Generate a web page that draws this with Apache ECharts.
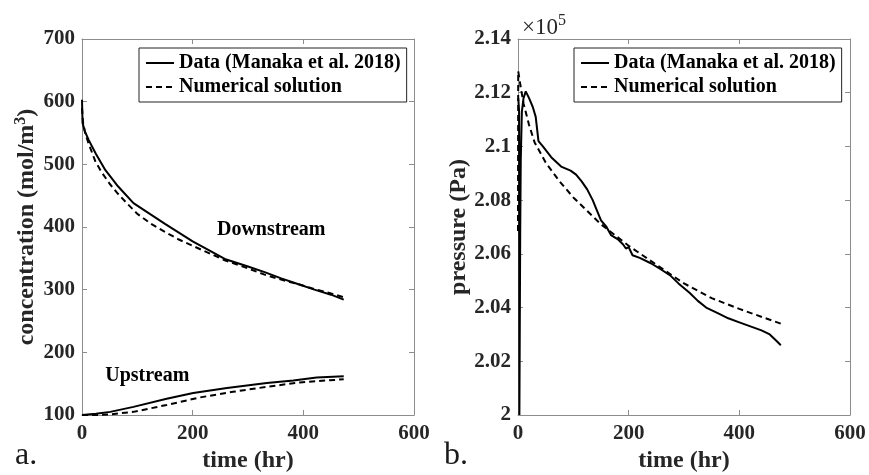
<!DOCTYPE html>
<html>
<head>
<meta charset="utf-8">
<script src="https://cdn.jsdelivr.net/npm/echarts@6/dist/echarts.min.js"></script>
<style>
    html, body {margin: 0; padding: 0; background: #fff;}
    #chart {width: 869px; height: 475px;}
</style>
</head>
<body>
<div id="chart"></div>
<script>
    // [time (hr), concentration (mol/m3)]
    const downstreamData = [[0, 603], [1, 566], [5, 553], [12, 539], [25, 517], [42, 491], [65, 465], [93, 438],
        [150, 405], [200, 377], [258, 349], [300, 337], [330, 328], [360, 318], [390, 309], [420, 300], [450, 292], [473, 284]];
    const downstreamModel = [[0, 590], [2, 566], [6, 549], [12, 533], [24, 505], [35, 488], [50, 469], [65, 453],
        [80, 439], [100, 421], [125, 405], [150, 392], [175, 380], [200, 370], [258, 347], [300, 334], [330, 324],
        [360, 316], [390, 309], [420, 301], [450, 294], [473, 288]];
    const upstreamData = [[0, 100], [25, 102], [51, 105], [93, 113], [153, 126], [201, 135], [262, 143], [334, 151],
        [382, 155], [424, 160], [473, 162]];
    const upstreamModel = [[0, 100], [25, 100], [51, 101], [93, 105], [153, 116], [213, 128], [273, 137], [334, 145],
        [394, 152], [473, 157]];
    // [time (hr), pressure (Pa)]
    const pressureData = [[0.5, 211800], [2, 211300], [2.5, 200000], [3.5, 200000], [4, 206800], [5, 209500], [7, 211300],
        [10, 211800], [14, 212050], [20, 211800], [27, 211450], [32, 211100], [37, 210200], [45, 210000], [60, 209600],
        [78, 209250], [95, 209100], [105, 208950], [115, 208700], [125, 208400], [135, 208000], [142, 207650],
        [150, 207250], [160, 207000], [168, 206700], [180, 206550], [190, 206350], [195, 206200], [200, 206250],
        [207, 205950], [220, 205850], [240, 205650], [260, 205400], [275, 205200], [290, 204900], [310, 204550],
        [325, 204250], [340, 204000], [360, 203800], [380, 203600], [400, 203450], [420, 203300], [440, 203150],
        [455, 203000], [465, 202800], [475, 202600]];
    const pressureModel = [[0, 206850], [0.4, 212800], [5, 212200], [10, 211600], [20, 210800], [30, 210150],
        [50, 209400], [75, 208700], [100, 208100], [125, 207600], [150, 207100], [175, 206700], [200, 206300],
        [250, 205600], [300, 204900], [350, 204350], [400, 203950], [475, 203400]];
    const legendNames = ['Data (Manaka et al. 2018)', 'Numerical solution'];

    const serif = 'Liberation Serif';
    const textColor = '#262626';
    const boxColor = '#8c8c8c';

    const chart = echarts.init(document.getElementById('chart'));

    function xAx(grid, pos) {
        const main = pos === 'bottom';
        return {
            gridIndex: grid, type: 'value', position: pos, min: 0, max: 600, interval: 200,
            name: main ? 'time (hr)' : '', nameLocation: 'middle', nameGap: 34,
            nameTextStyle: {fontFamily: serif, fontWeight: 'bold', fontSize: 24, color: textColor},
            axisLine: {show: true, onZero: false, lineStyle: {color: boxColor, width: 1}},
            axisTick: {show: true, inside: true, length: 5, lineStyle: {color: boxColor}},
            axisLabel: {show: main, margin: 8, fontFamily: serif, fontWeight: 'bold', fontSize: 21, color: textColor},
            splitLine: {show: false}
        };
    }
    function yAx(grid, pos, min, max, step, name, fmt, gap) {
        const main = pos === 'left';
        return {
            gridIndex: grid, type: 'value', position: pos, min: min, max: max, interval: step,
            name: main ? name : '', nameLocation: 'middle', nameGap: gap,
            nameTextStyle: {fontFamily: serif, fontWeight: 'bold', fontSize: 24, color: textColor,
                rich: {sup: {fontFamily: serif, fontWeight: 'bold', fontSize: 16, color: textColor, padding: [0, 0, 12, 0]}}},
            axisLine: {show: true, onZero: false, lineStyle: {color: boxColor, width: 1}},
            axisTick: {show: true, inside: true, length: 5, lineStyle: {color: boxColor}},
            axisLabel: {show: main, margin: 7, fontFamily: serif, fontWeight: 'bold', fontSize: 21, color: textColor, formatter: fmt},
            splitLine: {show: false}
        };
    }
    function line(name, data, xi, yi, dashed, mark) {
        const s = {
            name: name, type: 'line', data: data, xAxisIndex: xi, yAxisIndex: yi,
            symbol: 'none', animation: false, silent: true,
            itemStyle: {color: '#000'},
            lineStyle: {color: '#000', width: 2, type: dashed ? [6, 4] : 'solid'}
        };
        if (mark) {
            s.markPoint = {
                symbol: 'circle', symbolSize: 0, silent: true,
                label: {show: true, position: 'inside', formatter: '{b}', fontFamily: serif, fontWeight: 'bold', fontSize: 20, color: '#000'},
                data: [{name: mark.text, coord: mark.at}]
            };
        }
        return s;
    }
    function legend(left) {
        return {
            data: legendNames, orient: 'vertical', left: left, top: 48,
            padding: [5, 6, 5, 6], itemGap: 4, itemWidth: 28, itemHeight: 14,
            borderColor: '#222', borderWidth: 1, backgroundColor: '#fff',
            selectedMode: false,
            itemStyle: {opacity: 0},
            textStyle: {fontFamily: serif, fontWeight: 'bold', fontSize: 20, color: '#000'}
        };
    }

    const option = {
        backgroundColor: '#fff',
        animation: false,
        grid: [
            {left: 82, top: 39, width: 332, height: 376, outerBoundsMode: 'none', containLabel: false},
            {left: 518, top: 39, width: 332, height: 376, outerBoundsMode: 'none', containLabel: false}
        ],
        xAxis: [xAx(0, 'bottom'), xAx(0, 'top'), xAx(1, 'bottom'), xAx(1, 'top')],
        yAxis: [
            yAx(0, 'left', 100, 700, 100, 'concentration (mol/m{sup|3})', null, 41),
            yAx(0, 'right', 100, 700, 100, '', null, 0),
            yAx(1, 'left', 200000, 214000, 2000, 'pressure (Pa)', v => String(+(v / 1e5).toFixed(2)), 43),
            yAx(1, 'right', 200000, 214000, 2000, '', null, 0)
        ],
        legend: [legend(139), legend(574)],
        series: [
            line(legendNames[0], downstreamData, 0, 0, false, {text: 'Downstream', at: [342, 395]}),
            line(legendNames[1], downstreamModel, 0, 0, true),
            line(legendNames[0], upstreamData, 0, 0, false, {text: 'Upstream', at: [118, 162]}),
            line(legendNames[1], upstreamModel, 0, 0, true),
            line(legendNames[0], pressureData, 2, 2, false),
            line(legendNames[1], pressureModel, 2, 2, true)
        ],
        graphic: [
            {type: 'text', left: 522, top: 13, style: {text: '×10{sup|5}', fontFamily: serif, fontSize: 23, fill: textColor,
                rich: {sup: {fontFamily: serif, fontSize: 16, fill: textColor, padding: [0, 0, 13, 0]}}}},
            {type: 'text', left: 15, top: 440, style: {text: 'a.', fontFamily: serif, fontSize: 32, fill: '#1a1a1a'}},
            {type: 'text', left: 444, top: 440, style: {text: 'b.', fontFamily: serif, fontSize: 32, fill: '#1a1a1a'}}
        ]
    };
    chart.setOption(option);
</script>
</body>
</html>
